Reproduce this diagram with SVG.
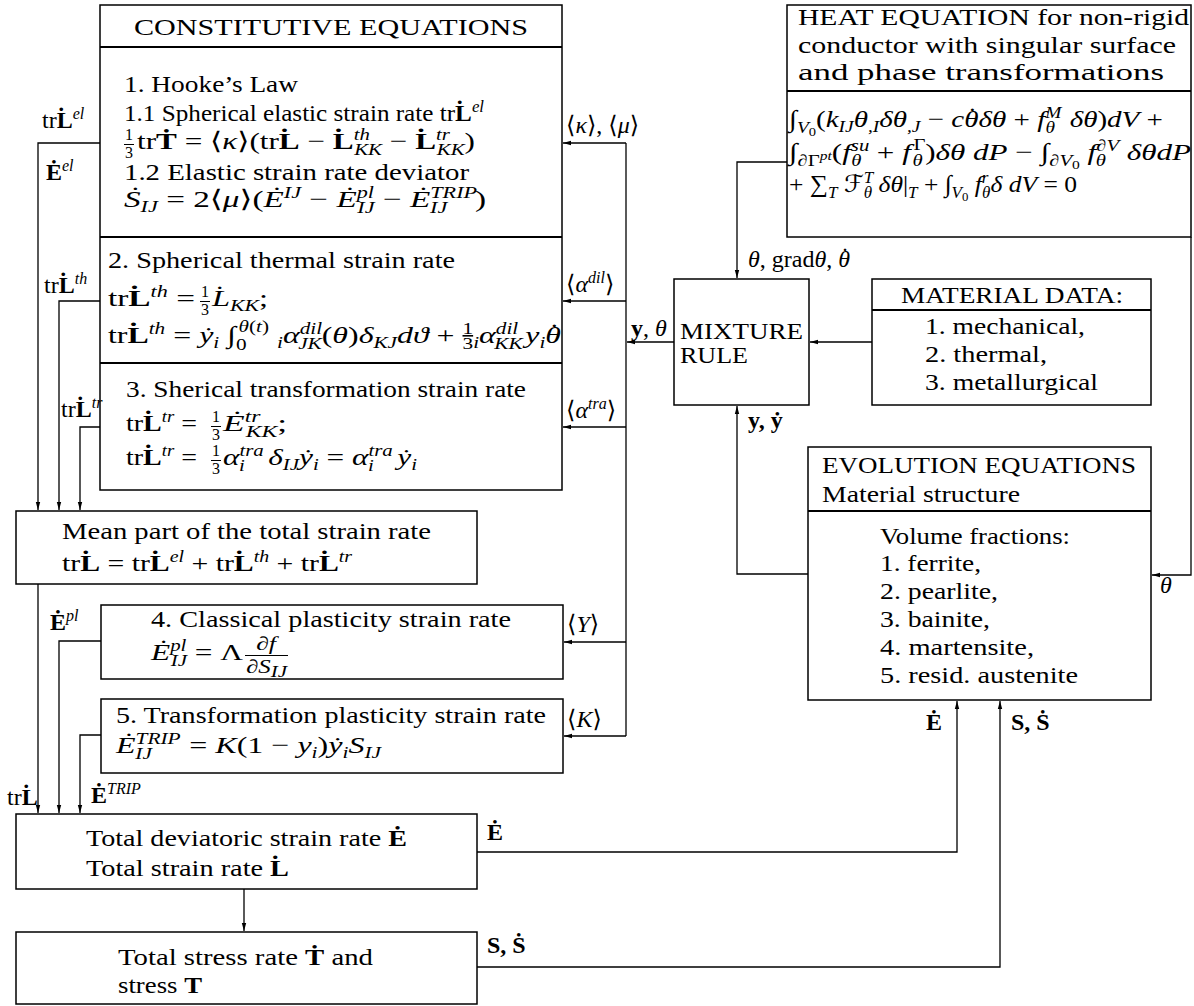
<svg xmlns="http://www.w3.org/2000/svg" width="1194" height="1006" viewBox="0 0 1194 1006">
<style>
text{font-family:"Liberation Serif","DejaVu Serif","DejaVu Sans",serif;font-size:24px;fill:#000}
.i{font-style:italic}
.b{font-weight:bold}
.s{font-size:16px}
.ss{font-size:12px}
.f{font-size:16px}
.fr{font-size:19px}
.box{fill:#fff;stroke:#000;stroke-width:1.5}
.sep{stroke:#000;stroke-width:2}
.bar{stroke:#000;stroke-width:1}
.c{fill:none;stroke:#000;stroke-width:1.3}
.a{fill:none;stroke:#000;stroke-width:1.3;marker-end:url(#ah)}
</style>
<defs>
<marker id="ah" viewBox="0 0 8 6" refX="8" refY="3" markerWidth="8" markerHeight="6" markerUnits="userSpaceOnUse" orient="auto"><path d="M0,0.8 L8,3 L0,5.2 z" fill="#000"/></marker>
</defs>
<rect width="1194" height="1006" fill="#fff"/>

<g id="constitutive">
<rect class="box" x="100" y="5" width="462" height="485"/>
<line class="sep" x1="100" y1="47" x2="562" y2="47"/>
<line class="sep" x1="100" y1="237" x2="562" y2="237"/>
<line class="sep" x1="100" y1="363" x2="562" y2="363"/>
<text x="331" y="35" text-anchor="middle" textLength="394" lengthAdjust="spacingAndGlyphs">CONSTITUTIVE EQUATIONS</text>
<text x="124" y="92" textLength="174" lengthAdjust="spacingAndGlyphs">1. Hooke’s Law</text>
<text x="124" y="121" textLength="360" lengthAdjust="spacingAndGlyphs">1.1 Spherical elastic strain rate tr<tspan class="b">L&#775;</tspan><tspan class="s i" baseline-shift="9">el</tspan></text>
<text class="f" x="129" y="140" text-anchor="middle">1</text>
<text class="f" x="129" y="158" text-anchor="middle">3</text>
<line class="bar" x1="124" y1="144.5" x2="134" y2="144.5"/>
<text x="137" y="149" textLength="338" lengthAdjust="spacingAndGlyphs">tr<tspan class="b">T&#775;</tspan> = ⟨<tspan class="i">κ</tspan>⟩(tr<tspan class="b">L&#775;</tspan> − <tspan class="b">L&#775;</tspan><tspan class="s i" baseline-shift="9">th</tspan><tspan class="s i" baseline-shift="-6" dx="-12">KK</tspan> − <tspan class="b">L&#775;</tspan><tspan class="s i" baseline-shift="9">tr</tspan><tspan class="s i" baseline-shift="-6" dx="-10">KK</tspan>)</text>
<text x="124" y="180" textLength="345" lengthAdjust="spacingAndGlyphs">1.2 Elastic strain rate deviator</text>
<text x="124" y="207" textLength="362" lengthAdjust="spacingAndGlyphs"><tspan class="i">S&#775;</tspan><tspan class="s i" baseline-shift="-5">IJ</tspan> = 2⟨<tspan class="i">μ</tspan>⟩(<tspan class="i">E&#775;</tspan><tspan class="s i" baseline-shift="9">IJ</tspan> − <tspan class="i">E&#775;</tspan><tspan class="s i" baseline-shift="9">pl</tspan><tspan class="s i" baseline-shift="-6" dx="-12">IJ</tspan> − <tspan class="i">E&#775;</tspan><tspan class="s i" baseline-shift="9">TRIP</tspan><tspan class="s i" baseline-shift="-6" dx="-34">IJ</tspan><tspan dx="20">)</tspan></text>

<text x="108" y="268" textLength="347" lengthAdjust="spacingAndGlyphs">2. Spherical thermal strain rate</text>
<text x="108" y="306" textLength="87" lengthAdjust="spacingAndGlyphs">tr<tspan class="b">L&#775;</tspan><tspan class="s i" baseline-shift="9">th</tspan> =</text>
<text class="f" x="205" y="297" text-anchor="middle">1</text>
<text class="f" x="205" y="315" text-anchor="middle">3</text>
<line class="bar" x1="200" y1="301.5" x2="210" y2="301.5"/>
<text x="212" y="306" textLength="56" lengthAdjust="spacingAndGlyphs"><tspan class="i">L&#775;</tspan><tspan class="s i" baseline-shift="-5">KK</tspan>;</text>
<text x="108" y="343" textLength="453" lengthAdjust="spacingAndGlyphs">tr<tspan class="b">L&#775;</tspan><tspan class="s i" baseline-shift="9">th</tspan> = <tspan class="i">y&#775;</tspan><tspan class="s i" baseline-shift="-5">i</tspan> ∫<tspan class="s" baseline-shift="-7">0</tspan><tspan class="s i" baseline-shift="11" dx="-6">θ</tspan><tspan class="s" baseline-shift="11">(</tspan><tspan class="s i" baseline-shift="11">t</tspan><tspan class="s" baseline-shift="11">)</tspan> <tspan class="s i" baseline-shift="-5">i</tspan><tspan class="i">α</tspan><tspan class="s i" baseline-shift="9">dil</tspan><tspan class="s i" baseline-shift="-6" dx="-18">JK</tspan>(<tspan class="i">θ</tspan>)<tspan class="i">δ</tspan><tspan class="s i" baseline-shift="-5">KJ</tspan><tspan class="i">dϑ</tspan> + <tspan class="f" baseline-shift="9" text-decoration="underline">1</tspan><tspan class="f" baseline-shift="-6" dx="-8">3</tspan><tspan class="s i" baseline-shift="-5">i</tspan><tspan class="i">α</tspan><tspan class="s i" baseline-shift="9">dil</tspan><tspan class="s i" baseline-shift="-6" dx="-18">KK</tspan><tspan class="i" dx="2">y</tspan><tspan class="s i" baseline-shift="-5">i</tspan><tspan class="i">θ</tspan><tspan dx="-9" baseline-shift="3">˙</tspan></text>

<text x="126" y="397" textLength="400" lengthAdjust="spacingAndGlyphs">3. Sherical transformation strain rate</text>
<text x="126" y="431" textLength="71" lengthAdjust="spacingAndGlyphs">tr<tspan class="b">L&#775;</tspan><tspan class="s i" baseline-shift="9">tr</tspan> =</text>
<text class="f" x="216" y="422" text-anchor="middle">1</text>
<text class="f" x="216" y="440" text-anchor="middle">3</text>
<line class="bar" x1="211" y1="426.5" x2="221" y2="426.5"/>
<text x="223" y="431" textLength="64" lengthAdjust="spacingAndGlyphs"><tspan class="i">E&#775;</tspan><tspan class="s i" baseline-shift="9">tr</tspan><tspan class="s i" baseline-shift="-6" dx="-10">KK</tspan>;</text>
<text x="126" y="465" textLength="71" lengthAdjust="spacingAndGlyphs">tr<tspan class="b">L&#775;</tspan><tspan class="s i" baseline-shift="9">tr</tspan> =</text>
<text class="f" x="216" y="456" text-anchor="middle">1</text>
<text class="f" x="216" y="474" text-anchor="middle">3</text>
<line class="bar" x1="211" y1="460.5" x2="221" y2="460.5"/>
<text x="223" y="465" textLength="194" lengthAdjust="spacingAndGlyphs"><tspan class="i">α</tspan><tspan class="s i" baseline-shift="9">tra</tspan><tspan class="s i" baseline-shift="-6" dx="-19">i</tspan><tspan dx="12"> </tspan><tspan class="i">δ</tspan><tspan class="s i" baseline-shift="-5">IJ</tspan><tspan class="i">y&#775;</tspan><tspan class="s i" baseline-shift="-5">i</tspan> = <tspan class="i">α</tspan><tspan class="s i" baseline-shift="9">tra</tspan><tspan class="s i" baseline-shift="-6" dx="-19">i</tspan><tspan dx="12"> </tspan><tspan class="i">y&#775;</tspan><tspan class="s i" baseline-shift="-5">i</tspan></text>
</g>

<g id="mean-part">
<rect class="box" x="16" y="511" width="461" height="73"/>
<text x="62" y="539" textLength="369" lengthAdjust="spacingAndGlyphs">Mean part of the total strain rate</text>
<text x="62" y="571" textLength="290" lengthAdjust="spacingAndGlyphs">tr<tspan class="b">L&#775;</tspan> = tr<tspan class="b">L&#775;</tspan><tspan class="s i" baseline-shift="9">el</tspan> + tr<tspan class="b">L&#775;</tspan><tspan class="s i" baseline-shift="9">th</tspan> + tr<tspan class="b">L&#775;</tspan><tspan class="s i" baseline-shift="9">tr</tspan></text>
</g>

<g id="classical-plasticity">
<rect class="box" x="101" y="605" width="462" height="74"/>
<text x="151" y="627" textLength="360" lengthAdjust="spacingAndGlyphs">4. Classical plasticity strain rate</text>
<text x="151" y="660" textLength="92" lengthAdjust="spacingAndGlyphs"><tspan class="i">E&#775;</tspan><tspan class="s i" baseline-shift="9">pl</tspan><tspan class="s i" baseline-shift="-6" dx="-12">IJ</tspan> = Λ</text>
<text class="fr i" x="266" y="650" text-anchor="middle" textLength="20" lengthAdjust="spacingAndGlyphs">∂f</text>
<line class="bar" x1="245" y1="655.5" x2="288" y2="655.5"/>
<text class="fr i" x="246" y="673" textLength="41" lengthAdjust="spacingAndGlyphs">∂S<tspan class="s" baseline-shift="-4">IJ</tspan></text>
</g>

<g id="transformation-plasticity">
<rect class="box" x="101" y="699" width="462" height="74"/>
<text x="116" y="723" textLength="430" lengthAdjust="spacingAndGlyphs">5. Transformation plasticity strain rate</text>
<text x="116" y="753" textLength="265" lengthAdjust="spacingAndGlyphs"><tspan class="i">E&#775;</tspan><tspan class="s i" baseline-shift="9">TRIP</tspan><tspan class="s i" baseline-shift="-6" dx="-34">IJ</tspan><tspan dx="22"> </tspan>= <tspan class="i">K</tspan>(1 − <tspan class="i">y</tspan><tspan class="s i" baseline-shift="-5">i</tspan>)<tspan class="i">y&#775;</tspan><tspan class="s i" baseline-shift="-5">i</tspan><tspan class="i">S</tspan><tspan class="s i" baseline-shift="-5">IJ</tspan></text>
</g>

<g id="total-strain">
<rect class="box" x="16" y="814" width="461" height="75"/>
<text x="86" y="846" textLength="321" lengthAdjust="spacingAndGlyphs">Total deviatoric strain rate <tspan class="b">E&#775;</tspan></text>
<text x="86" y="876" textLength="203" lengthAdjust="spacingAndGlyphs">Total strain rate <tspan class="b">L&#775;</tspan></text>
</g>

<g id="total-stress">
<rect class="box" x="16" y="932" width="461" height="72"/>
<text x="118" y="965" textLength="255" lengthAdjust="spacingAndGlyphs">Total stress rate <tspan class="b">T&#775;</tspan> and</text>
<text x="118" y="993" textLength="84" lengthAdjust="spacingAndGlyphs">stress <tspan class="b">T</tspan></text>
</g>

<g id="heat-equation">
<rect class="box" x="787" y="5" width="404" height="232"/>
<line class="sep" x1="787" y1="91" x2="1191" y2="91"/>
<text x="798" y="25" textLength="391" lengthAdjust="spacingAndGlyphs">HEAT EQUATION for non-rigid</text>
<text x="798" y="53" textLength="378" lengthAdjust="spacingAndGlyphs">conductor with singular surface</text>
<text x="798" y="80" textLength="366" lengthAdjust="spacingAndGlyphs">and phase transformations</text>
<text x="789" y="127" textLength="374" lengthAdjust="spacingAndGlyphs">∫<tspan class="s i" baseline-shift="-6">V</tspan><tspan class="ss" baseline-shift="-9">0</tspan>(<tspan class="i">k</tspan><tspan class="s i" baseline-shift="-5">IJ</tspan><tspan class="i">θ</tspan><tspan class="s i" baseline-shift="-5">,I</tspan><tspan class="i">δθ</tspan><tspan class="s i" baseline-shift="-5">,J</tspan> − <tspan class="i">cθ</tspan><tspan dx="-9" baseline-shift="3">˙</tspan><tspan class="i" dx="1">δθ</tspan> + <tspan class="i">f</tspan><tspan class="s i" baseline-shift="9">M</tspan><tspan class="s i" baseline-shift="-6" dx="-13">θ</tspan><tspan dx="6"> </tspan><tspan class="i">δθ</tspan>)<tspan class="i">dV</tspan> +</text>
<text x="789" y="160" textLength="402" lengthAdjust="spacingAndGlyphs">∫<tspan class="s" baseline-shift="-6">∂Γ</tspan><tspan class="ss i" baseline-shift="0">pt</tspan>(<tspan class="i">f</tspan><tspan class="s i" baseline-shift="9">su</tspan><tspan class="s i" baseline-shift="-6" dx="-14">θ</tspan><tspan dx="6"> </tspan>+ <tspan class="i">f</tspan><tspan class="s" baseline-shift="10" dx="2">Γ</tspan><tspan class="s i" baseline-shift="-6" dx="-10">θ</tspan><tspan dx="2">)</tspan><tspan class="i">δθ dP</tspan> − ∫<tspan class="s" baseline-shift="-6">∂</tspan><tspan class="s i" baseline-shift="-6">V</tspan><tspan class="ss" baseline-shift="-9">0</tspan> <tspan class="i">f</tspan><tspan class="s" baseline-shift="9">∂</tspan><tspan class="s i" baseline-shift="9">V</tspan><tspan class="s i" baseline-shift="-6" dx="-18">θ</tspan><tspan dx="10"> </tspan><tspan class="i">δθdP</tspan></text>
<text x="789" y="192" textLength="288" lengthAdjust="spacingAndGlyphs">+ ∑<tspan class="s i" baseline-shift="-6">T</tspan> ℱ<tspan class="s i" baseline-shift="9">T</tspan><tspan class="s i" baseline-shift="-6" dx="-9">θ</tspan> <tspan class="i">δθ</tspan>|<tspan class="s i" baseline-shift="-6">T</tspan> + ∫<tspan class="s i" baseline-shift="-6">V</tspan><tspan class="ss" baseline-shift="-9">0</tspan> <tspan class="i">f</tspan><tspan class="s i" baseline-shift="9">r</tspan><tspan class="s i" baseline-shift="-6" dx="-6">θ</tspan><tspan class="i">δ dV</tspan> = 0</text>
</g>

<g id="mixture-rule">
<rect class="box" x="674" y="279" width="135" height="126"/>
<text x="680" y="339" textLength="123" lengthAdjust="spacingAndGlyphs">MIXTURE</text>
<text x="680" y="363" textLength="68" lengthAdjust="spacingAndGlyphs">RULE</text>
</g>

<g id="material-data">
<rect class="box" x="872" y="279" width="279" height="126"/>
<line class="sep" x1="872" y1="310" x2="1151" y2="310"/>
<text x="901" y="303" textLength="222" lengthAdjust="spacingAndGlyphs">MATERIAL DATA:</text>
<text x="925" y="334" textLength="160" lengthAdjust="spacingAndGlyphs">1. mechanical,</text>
<text x="925" y="362" textLength="122" lengthAdjust="spacingAndGlyphs">2. thermal,</text>
<text x="925" y="390" textLength="173" lengthAdjust="spacingAndGlyphs">3. metallurgical</text>
</g>

<g id="evolution-equations">
<rect class="box" x="808" y="447" width="343" height="253"/>
<line class="sep" x1="808" y1="511" x2="1151" y2="511"/>
<text x="822" y="473" textLength="314" lengthAdjust="spacingAndGlyphs">EVOLUTION EQUATIONS</text>
<text x="822" y="502" textLength="198" lengthAdjust="spacingAndGlyphs">Material structure</text>
<text x="880" y="544" textLength="190" lengthAdjust="spacingAndGlyphs">Volume fractions:</text>
<text x="880" y="571" textLength="101" lengthAdjust="spacingAndGlyphs">1. ferrite,</text>
<text x="880" y="599" textLength="118" lengthAdjust="spacingAndGlyphs">2. pearlite,</text>
<text x="880" y="627" textLength="110" lengthAdjust="spacingAndGlyphs">3. bainite,</text>
<text x="880" y="655" textLength="154" lengthAdjust="spacingAndGlyphs">4. martensite,</text>
<text x="880" y="683" textLength="198" lengthAdjust="spacingAndGlyphs">5. resid. austenite</text>
</g>

<g id="connectors">
<path class="c" d="M626,143 V736"/>
<path class="a" d="M626,143 H563"/>
<path class="a" d="M626,301 H563"/>
<path class="a" d="M626,427 H563"/>
<path class="a" d="M626,642 H564"/>
<path class="a" d="M626,736 H564"/>
<path class="a" d="M674,342 H627"/>
<path class="a" d="M872,342 H810"/>
<path class="a" d="M787,162 H737 V278"/>
<path class="a" d="M808,574 H737 V406"/>
<path class="a" d="M1191,237 V575 H1152"/>
<path class="a" d="M100,143 H38 V510"/>
<path class="a" d="M100,301 H59 V510"/>
<path class="a" d="M100,427 H80 V510"/>
<path class="a" d="M38,584 V813"/>
<path class="a" d="M101,641 H59 V813"/>
<path class="a" d="M101,735 H80 V813"/>
<path class="a" d="M244,889 V931"/>
<path class="a" d="M477,852 H957 V701"/>
<path class="a" d="M477,967 H1000 V701"/>

<text x="566" y="133">⟨<tspan class="i">κ</tspan>⟩, ⟨<tspan class="i">μ</tspan>⟩</text>
<text x="566" y="292">⟨<tspan class="i">α</tspan><tspan class="s i" baseline-shift="9">dil</tspan>⟩</text>
<text x="566" y="418">⟨<tspan class="i">α</tspan><tspan class="s i" baseline-shift="9">tra</tspan>⟩</text>
<text x="567" y="632">⟨<tspan class="i">Y</tspan>⟩</text>
<text x="567" y="727">⟨<tspan class="i">K</tspan>⟩</text>
<text x="631" y="336"><tspan class="b">y</tspan>, <tspan class="i">θ</tspan></text>
<text x="748" y="267"><tspan class="i">θ</tspan>, grad<tspan class="i">θ</tspan>, <tspan class="i">θ</tspan><tspan dx="-9" baseline-shift="3">˙</tspan></text>
<text x="748" y="428" class="b">y, y&#775;</text>
<text x="1160" y="593" class="i">θ</text>
<text x="926" y="730" class="b">E&#775;</text>
<text x="1011" y="730" class="b">S, S&#775;</text>
<text x="487" y="840" class="b">E&#775;</text>
<text x="487" y="953" class="b">S, S&#775;</text>
<text x="42" y="128">tr<tspan class="b">L&#775;</tspan><tspan class="s i" baseline-shift="9">el</tspan></text>
<text x="46" y="180"><tspan class="b">E&#775;</tspan><tspan class="s i" baseline-shift="9">el</tspan></text>
<text x="44" y="293">tr<tspan class="b">L&#775;</tspan><tspan class="s i" baseline-shift="9">th</tspan></text>
<text x="61" y="417">tr<tspan class="b">L&#775;</tspan><tspan class="s i" baseline-shift="9">tr</tspan></text>
<text x="50" y="630"><tspan class="b">E&#775;</tspan><tspan class="s i" baseline-shift="9">pl</tspan></text>
<text x="7" y="805">tr<tspan class="b">L&#775;</tspan></text>
<text x="91" y="803"><tspan class="b">E&#775;</tspan><tspan class="s i" baseline-shift="9">TRIP</tspan></text>
</g>
</svg>
